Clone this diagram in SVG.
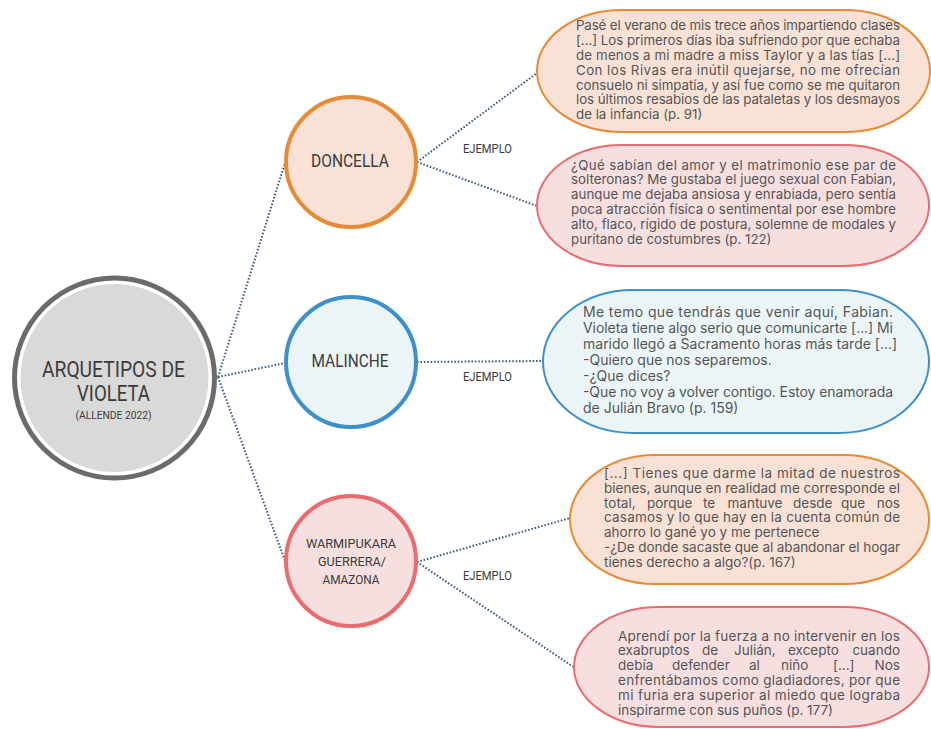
<svg xmlns="http://www.w3.org/2000/svg" width="931" height="729" viewBox="0 0 931 729">
<style>
.bg{fill:#ffffff}
.lbl{font-family:Roboto,"Liberation Sans",sans-serif;fill:#3c3c3c;text-anchor:middle}
.q{font-family:Inter,"Liberation Sans",sans-serif;fill:#555555;font-size:13.3px}
.q14{font-family:Inter,"Liberation Sans",sans-serif;fill:#555555;font-size:14px}
.q135{font-family:Inter,"Liberation Sans",sans-serif;fill:#555555;font-size:13.5px}
.conn{fill:none;stroke:#3f5d78;stroke-width:2;stroke-dasharray:1.6 1.8}
.ej{font-family:Roboto,"Liberation Sans",sans-serif;fill:#3c3c3c;font-size:12px;text-anchor:middle}
.orange{fill:#f9e1d6;stroke:#e88b36}
.pink{fill:#f7dfe0;stroke:#ea6c6f}
.blue{fill:#ebf5f8;stroke:#3e90cc}
.circ{stroke-width:4}
.box{stroke-width:2}
</style>
<rect class="bg" x="0" y="0" width="931" height="729"/>

<g id="connectors">
<line class="conn" x1="218" y1="377" x2="285" y2="163"/>
<line class="conn" x1="218" y1="377" x2="285" y2="363"/>
<line class="conn" x1="218" y1="377" x2="285" y2="561"/>
<line class="conn" x1="417" y1="162" x2="537" y2="73"/>
<line class="conn" x1="417" y1="162" x2="537" y2="206"/>
<line class="conn" x1="417" y1="362" x2="543" y2="361"/>
<line class="conn" x1="417" y1="562" x2="570" y2="518"/>
<line class="conn" x1="417" y1="562" x2="575" y2="668"/>
<text class="ej" x="487.5" y="153" textLength="49" lengthAdjust="spacingAndGlyphs">EJEMPLO</text>
<text class="ej" x="487.5" y="381" textLength="49" lengthAdjust="spacingAndGlyphs">EJEMPLO</text>
<text class="ej" x="487.5" y="580" textLength="49" lengthAdjust="spacingAndGlyphs">EJEMPLO</text>
</g>

<g id="central">
<circle cx="114.5" cy="378" r="100" fill="#ffffff" stroke="#6b6b6b" stroke-width="5"/>
<circle cx="114.5" cy="378" r="94" fill="#d9d9d9"/>
<text class="lbl" x="113.5" y="377" font-size="22" textLength="143" lengthAdjust="spacingAndGlyphs">ARQUETIPOS DE</text>
<text class="lbl" x="113.5" y="401" font-size="22" textLength="73" lengthAdjust="spacingAndGlyphs">VIOLETA</text>
<text class="lbl" x="113.5" y="419" font-size="10.5" textLength="76" lengthAdjust="spacingAndGlyphs">(ALLENDE 2022)</text>
</g>

<g id="doncella">
<circle class="orange circ" cx="351" cy="162" r="65"/>
<text class="lbl" x="350" y="167" font-size="18" textLength="78" lengthAdjust="spacingAndGlyphs">DONCELLA</text>
</g>

<g id="malinche">
<circle class="blue circ" cx="351" cy="362" r="65"/>
<text class="lbl" x="350" y="367" font-size="18" textLength="77" lengthAdjust="spacingAndGlyphs">MALINCHE</text>
</g>

<g id="warmipukara">
<circle class="pink circ" cx="351" cy="561" r="65"/>
<text class="lbl" x="351" y="548" font-size="13.5" textLength="90" lengthAdjust="spacingAndGlyphs">WARMIPUKARA</text>
<text class="lbl" x="352" y="566" font-size="13.5" textLength="68" lengthAdjust="spacingAndGlyphs">GUERRERA/</text>
<text class="lbl" x="351" y="584" font-size="13.5" textLength="57" lengthAdjust="spacingAndGlyphs">AMAZONA</text>
</g>

<g id="ejemplo-doncella-1">
<rect class="orange box" x="537" y="10" width="393" height="122" rx="85" ry="61"/>
<text class="q" x="576" y="30" textLength="324" lengthAdjust="spacing">Pasé el verano de mis trece años impartiendo clases</text>
<text class="q" x="576" y="45" textLength="324" lengthAdjust="spacing">[...] Los primeros días iba sufriendo por que echaba</text>
<text class="q" x="576" y="60" textLength="324" lengthAdjust="spacing">de menos a mi madre a miss Taylor y a las tías [...]</text>
<text class="q" x="576" y="75" textLength="324" lengthAdjust="spacing">Con los Rivas era inútil quejarse, no me ofrecían</text>
<text class="q" x="576" y="89.5" textLength="324" lengthAdjust="spacing">consuelo ni simpatía, y así fue como se me quitaron</text>
<text class="q" x="576" y="104" textLength="324" lengthAdjust="spacing">los últimos resabios de las pataletas y los desmayos</text>
<text class="q" x="576" y="119">de la infancia (p. 91)</text>
</g>

<g id="ejemplo-doncella-2">
<rect class="pink box" x="537" y="145" width="392" height="121" rx="85" ry="60.5"/>
<text class="q" x="571" y="169.5" textLength="325" lengthAdjust="spacing">¿Qué sabían del amor y el matrimonio ese par de</text>
<text class="q" x="571" y="184.3" textLength="325" lengthAdjust="spacing">solteronas? Me gustaba el juego sexual con Fabian,</text>
<text class="q" x="571" y="199.1" textLength="325" lengthAdjust="spacing">aunque me dejaba ansiosa y enrabiada, pero sentía</text>
<text class="q" x="571" y="213.9" textLength="325" lengthAdjust="spacing">poca atracción física o sentimental por ese hombre</text>
<text class="q" x="571" y="228.7" textLength="325" lengthAdjust="spacing">alto, flaco, rígido de postura, solemne de modales y</text>
<text class="q" x="571" y="243.5">puritano de costumbres (p. 122)</text>
</g>

<g id="ejemplo-malinche">
<rect class="blue box" x="543" y="290" width="386" height="143" rx="90" ry="71.5"/>
<text class="q14" x="583" y="317.3" textLength="310" lengthAdjust="spacing">Me temo que tendrás que venir aquí, Fabian.</text>
<text class="q14" x="583" y="333.3" textLength="310" lengthAdjust="spacing">Violeta tiene algo serio que comunicarte [...] Mi</text>
<text class="q14" x="583" y="349.3">marido llegó a Sacramento horas más tarde [...]</text>
<text class="q14" x="583" y="365.3">-Quiero que nos separemos.</text>
<text class="q14" x="583" y="381.3">-¿Que dices?</text>
<text class="q14" x="583" y="397.3" textLength="310" lengthAdjust="spacing">-Que no voy a volver contigo. Estoy enamorada</text>
<text class="q14" x="583" y="413.3">de Julián Bravo (p. 159)</text>
</g>

<g id="ejemplo-warmipukara-1">
<rect class="orange box" x="570" y="455" width="359" height="129" rx="85" ry="64.5"/>
<text class="q135" x="604" y="478" textLength="296" lengthAdjust="spacing">[...] Tienes que darme la mitad de nuestros</text>
<text class="q135" x="604" y="492.8" textLength="296" lengthAdjust="spacing">bienes, aunque en realidad me corresponde el</text>
<text class="q135" y="507.6"><tspan x="604">total,</tspan><tspan x="647">porque</tspan><tspan x="703">te</tspan><tspan x="727.5">mantuve</tspan><tspan x="793">desde</tspan><tspan x="841">que</tspan><tspan x="900" text-anchor="end">nos</tspan></text>
<text class="q135" x="604" y="522.4" textLength="296" lengthAdjust="spacing">casamos y lo que hay en la cuenta común de</text>
<text class="q135" x="604" y="537.2">ahorro lo gané yo y me pertenece</text>
<text class="q135" x="604" y="552" textLength="296" lengthAdjust="spacing">-¿De donde sacaste que al abandonar el hogar</text>
<text class="q135" x="604" y="566.8">tienes derecho a algo?(p. 167)</text>
</g>

<g id="ejemplo-warmipukara-2">
<rect class="pink box" x="574" y="607" width="355" height="120" rx="85" ry="60"/>
<text class="q135" x="618" y="640.5" textLength="282" lengthAdjust="spacing">Aprendí por la fuerza a no intervenir en los</text>
<text class="q135" y="655.3"><tspan x="618">exabruptos</tspan><tspan x="702">de</tspan><tspan x="734">Julián,</tspan><tspan x="788">excepto</tspan><tspan x="900" text-anchor="end">cuando</tspan></text>
<text class="q135" y="670.1"><tspan x="618">debía</tspan><tspan x="672">defender</tspan><tspan x="749">al</tspan><tspan x="781">niño</tspan><tspan x="833">[...]</tspan><tspan x="900" text-anchor="end">Nos</tspan></text>
<text class="q135" x="618" y="684.9" textLength="282" lengthAdjust="spacing">enfrentábamos como gladiadores, por que</text>
<text class="q135" x="618" y="699.7" textLength="282" lengthAdjust="spacing">mi furia era superior al miedo que lograba</text>
<text class="q135" x="618" y="714.5">inspirarme con sus puños (p. 177)</text>
</g>
</svg>
